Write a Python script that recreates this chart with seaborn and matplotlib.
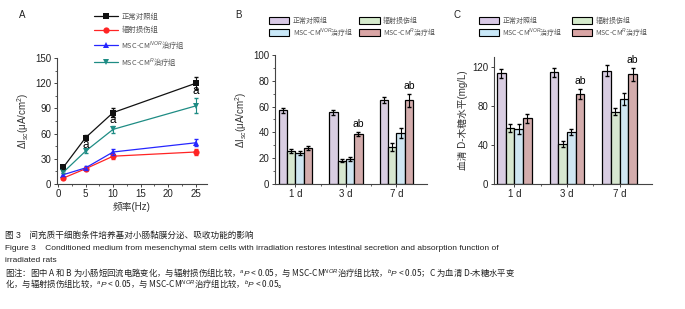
import matplotlib
matplotlib.use('Agg')
import matplotlib.pyplot as plt
import seaborn as sns
import numpy as np
import pandas as pd
from matplotlib.lines import Line2D
from matplotlib.patches import Patch
from matplotlib.ticker import MultipleLocator

sns.set_style('ticks')
plt.rcParams['font.family'] = ['Liberation Sans', 'Noto Sans CJK SC', 'DejaVu Sans']
plt.rcParams['mathtext.fontset'] = 'custom'
plt.rcParams['mathtext.rm'] = 'Liberation Sans'
plt.rcParams['mathtext.it'] = 'Liberation Sans:italic'
CJK = 'Noto Sans CJK SC'

# data
groups = ['正常对照组', '辐射损伤组', 'MSC-CM$^{NOR}$治疗组', 'MSC-CM$^{R}$治疗组']
freq = [1, 5, 10, 25]
isc_freq = [[20, 55, 85, 120], [7, 18, 33, 38], [11, 19, 38, 49], [14, 39, 65, 93]]
isc_freq_err = [[2, 3, 5, 7], [1, 2, 3, 4], [1.5, 2, 3, 4], [1.5, 2, 4, 9]]
days = ['1 d', '3 d', '7 d']
isc_day = [[57, 55.5, 65], [25.5, 18, 28.5], [24, 19, 39.5], [28, 39, 65]]
isc_day_err = [[2, 2, 2.5], [1.5, 1, 3], [1.5, 1.5, 4], [1.5, 1.5, 5]]
xyl_day = [[113, 114, 116], [57, 41, 74], [56, 53, 87], [67, 92, 112]]
xyl_day_err = [[5, 5, 6], [4, 3, 4], [5, 3, 6], [5, 5, 7]]

line_colors = ['#111111', '#ff2424', '#2626ff', '#1e8c84']
line_markers = ['s', 'o', '^', 'v']
bar_colors = ['#d9c9e6', '#d5ebcc', '#c9e8f8', '#d9a5a5']

fig = plt.figure(figsize=(6.85, 3.09), dpi=100)
grey = '#333333'
tick_fs = 7

# ---- panel A
axA = fig.add_axes([0.083, 0.405, 0.219, 0.407])
dfA = pd.DataFrame([(f, v, g) for g, vals in zip(groups, isc_freq) for f, v in zip(freq, vals)],
                   columns=['freq', 'val', 'group'])
sns.lineplot(data=dfA, x='freq', y='val', hue='group', style='group', palette=line_colors,
             markers=line_markers, dashes=False, markersize=4.5, markeredgewidth=0,
             linewidth=0.9, legend=False, ax=axA)
for vals, errs, c in zip(isc_freq, isc_freq_err, line_colors):
    axA.errorbar(freq, vals, yerr=errs, fmt='none', ecolor=c, elinewidth=0.8, capsize=1.5)
for f, v in zip(freq[1:], isc_freq[0][1:]):
    axA.text(f, v - 9, 'a', ha='center', va='center', fontsize=8.5, color='black')
axA.set_xlim(-0.2, 27)
axA.set_ylim(0, 150)
axA.set_xticks([0, 5, 10, 15, 20, 25])
axA.set_yticks(range(0, 151, 30))
axA.xaxis.set_minor_locator(MultipleLocator(2.5))
axA.yaxis.set_minor_locator(MultipleLocator(15))
axA.set_xlabel('频率(Hz)', fontsize=7, color=grey, labelpad=2)
axA.set_ylabel('ΔI$_{sc}$(μA/cm$^2$)', fontsize=7, color=grey, labelpad=3)
handlesA = [Line2D([], [], color=c, marker=m, markersize=4.5, markeredgewidth=0, linewidth=0.9)
            for c, m in zip(line_colors, line_markers)]
legA = fig.legend(handlesA, groups, loc='upper left', bbox_to_anchor=(0.133, 0.968),
                  frameon=False, prop=dict(family=CJK, size=5.3), handlelength=3.2,
                  handletextpad=0.5, labelspacing=0.75, borderaxespad=0)
for t in legA.get_texts():
    t.set_color('#555555')


def bar_panel(ax, values, errs, ylim, ystep, yminor, ylabel, xlim):
    df = pd.DataFrame([(d, v, g) for g, vals in zip(groups, values) for d, v in zip(days, vals)],
                      columns=['day', 'val', 'group'])
    sns.barplot(data=df, x='day', y='val', hue='group', palette=bar_colors, width=0.66,
                edgecolor='black', linewidth=0.9, errorbar=None, legend=False, ax=ax)
    for cont, e in zip(ax.containers, errs):
        xs = [p.get_x() + p.get_width() / 2 for p in cont]
        hs = [p.get_height() for p in cont]
        ax.errorbar(xs, hs, yerr=e, fmt='none', ecolor='black', elinewidth=0.8, capsize=1.5)
    cont = ax.containers[3]
    for i in (1, 2):
        p = cont[i]
        ax.text(p.get_x() + p.get_width() / 2, p.get_height() + errs[3][i] + ylim * 0.06, 'ab',
                ha='center', va='center', fontsize=7.5, color='black')
    ax.set_xlim(*xlim)
    ax.set_ylim(0, ylim)
    ax.set_yticks(np.arange(0, ylim + 1, ystep))
    if yminor:
        ax.yaxis.set_minor_locator(MultipleLocator(yminor))
    ax.set_xticks([0.5, 1.5], minor=True)
    ax.set_xlabel('')
    ax.set_ylabel(ylabel, fontsize=7, color=grey, labelpad=3)


axB = fig.add_axes([0.401, 0.405, 0.222, 0.417])
bar_panel(axB, isc_day, isc_day_err, 100, 20, 10, 'ΔI$_{sc}$(μA/cm$^2$)', (-0.41, 2.6))
axC = fig.add_axes([0.721, 0.405, 0.231, 0.411])
bar_panel(axC, xyl_day, xyl_day_err, 130, 40, None, '血清 D-木糖水平(mg/L)', (-0.39, 2.62))
axC.set_yticks([0, 40, 80, 120])

handlesB = [Patch(facecolor=c, edgecolor='black', linewidth=0.8) for c in bar_colors]
order = [0, 2, 1, 3]
for x0, colsp in ((0.389, 0.9), (0.695, 1.3)):
    leg = fig.legend([handlesB[i] for i in order], [groups[i] for i in order], ncol=2,
                     loc='upper left', bbox_to_anchor=(x0, 0.955), frameon=False,
                     prop=dict(family=CJK, size=5.0), handlelength=2.9, handleheight=1.15,
                     handletextpad=0.5, labelspacing=0.3, columnspacing=colsp, borderaxespad=0)
    for t in leg.get_texts():
        t.set_color('#555555')

for ax in (axA, axB, axC):
    sns.despine(ax=ax)
    ax.tick_params(axis='both', which='major', labelsize=tick_fs, length=2.5, width=0.7,
                   colors='#444444', labelcolor='#222222', pad=1.5)
    ax.tick_params(axis='both', which='minor', length=1.5, width=0.6, colors='#444444')
    for s in ('left', 'bottom'):
        ax.spines[s].set_linewidth(0.8)
        ax.spines[s].set_color('#444444')

for x, lab in ((0.027, 'A'), (0.343, 'B'), (0.662, 'C')):
    fig.text(x, 0.95, lab, fontsize=7, color='#222222', va='center')

# caption
cap = [
    (0.24, '图 3　间充质干细胞条件培养基对小肠黏膜分泌、吸收功能的影响', None, 6.2),
    (0.197, 'Figure 3    Conditioned medium from mesenchymal stem cells with irradiation restores intestinal secretion and absorption function of', None, 6.05),
    (0.158, 'irradiated rats', None, 6.05),
    (0.117, '图注：图中 A 和 B 为小肠短回流电路变化，与辐射损伤组比较，$^{a}$$\\it{P}$ < 0.05，与 MSC-CM$^{NOR}$治疗组比较，$^{b}$$\\it{P}$ < 0.05；C 为血清 D-木糖水平变', CJK, 6.0),
    (0.08, '化，与辐射损伤组比较，$^{a}$$\\it{P}$ < 0.05，与 MSC-CM$^{NOR}$治疗组比较，$^{b}$$\\it{P}$ < 0.05。', CJK, 6.0),
]
for y, s, fam, fs in cap:
    if fam:
        fig.text(0.008, y, s, fontsize=fs, family=fam, color='#222222', va='center')
    else:
        fig.text(0.008, y, s, fontsize=fs, color='#222222', va='center')

fig.savefig('out.png', dpi=100)
